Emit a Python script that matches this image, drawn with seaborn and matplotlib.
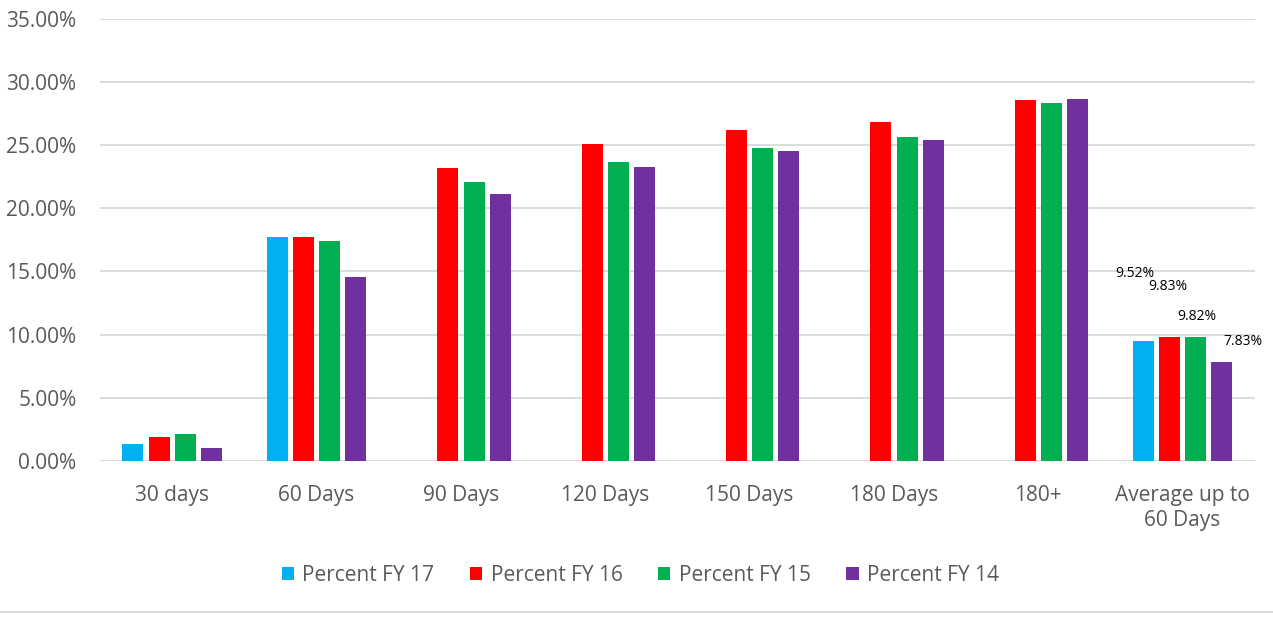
import numpy as np
import pandas as pd
import matplotlib.pyplot as plt
from matplotlib.patches import Patch
from matplotlib.lines import Line2D
import seaborn as sns

# data (percent)
categories = ["30 days", "60 Days", "90 Days", "120 Days", "150 Days",
              "180 Days", "180+", "Average up to\n60 Days"]
series = ["Percent FY 17", "Percent FY 16", "Percent FY 15", "Percent FY 14"]
fy17 = [1.32, 17.70, np.nan, np.nan, np.nan, np.nan, np.nan, 9.52]
fy16 = [1.90, 17.70, 23.18, 25.05, 26.20, 26.84, 28.56, 9.83]
fy15 = [2.14, 17.40, 22.07, 23.63, 24.76, 25.63, 28.35, 9.82]
fy14 = [1.00, 14.58, 21.12, 23.23, 24.50, 25.37, 28.62, 7.83]
avg_labels = ["9.52%", "9.83%", "9.82%", "7.83%"]

colors = ["#00B0F0", "#FF0000", "#00B050", "#7030A0"]

df = pd.DataFrame({
    "category": categories * 4,
    "series": np.repeat(series, len(categories)),
    "value": fy17 + fy16 + fy15 + fy14,
})

sns.set_style("white")
plt.rcParams["font.family"] = ["Open Sans", "DejaVu Sans"]

fig = plt.figure(figsize=(12.73, 6.17), dpi=100)
ax = fig.add_axes([0.0786, 0.2528, 0.9071, 0.7172])

sns.barplot(data=df, x="category", y="value", hue="series", palette=colors,
            saturation=1, width=0.727, gap=0.2, linewidth=0, legend=False,
            ax=ax)

# axis styling
ax.set_ylim(0, 35)
ax.set_xlim(-0.5, len(categories) - 0.5)
ax.set_yticks(np.arange(0, 36, 5))
ax.set_yticklabels([f"{v:.2f}%" for v in np.arange(0, 36, 5)])
ax.yaxis.grid(True, color="#D9D9D9", lw=1.3)
ax.set_axisbelow(True)
for s in ax.spines.values():
    s.set_visible(False)
ax.set_xlabel("")
ax.set_ylabel("")
ax.tick_params(axis="y", length=0, pad=17, labelsize=15, labelcolor="#595959")
ax.tick_params(axis="x", length=0, pad=17, labelsize=15, labelcolor="#595959")
for t in ax.get_xticklabels():
    t.set_linespacing(1.3)

# data labels on the last group
offsets = [(-6, 48), (-1, 36), (1, 15), (15, 15)]
for cont, lab, off in zip(ax.containers, avg_labels, offsets):
    bar = cont.patches[-1]
    ax.annotate(lab, (bar.get_x() + bar.get_width() / 2, bar.get_height()),
                xytext=off, textcoords="offset points", ha="center",
                va="center", fontsize=10, color="black")

handles = [Patch(facecolor=c, edgecolor="none") for c in colors]
fig.legend(handles, series, loc="center", bbox_to_anchor=(0.503, 0.068),
           ncol=4, frameon=False, fontsize=15, labelcolor="#595959",
           handlelength=0.6, handleheight=0.6, handletextpad=0.4,
           columnspacing=1.7)

fig.add_artist(Line2D([0, 1], [0.008, 0.008], transform=fig.transFigure,
                      color="#D9D9D9", lw=1.3))

fig.savefig("out.png", dpi=100)
